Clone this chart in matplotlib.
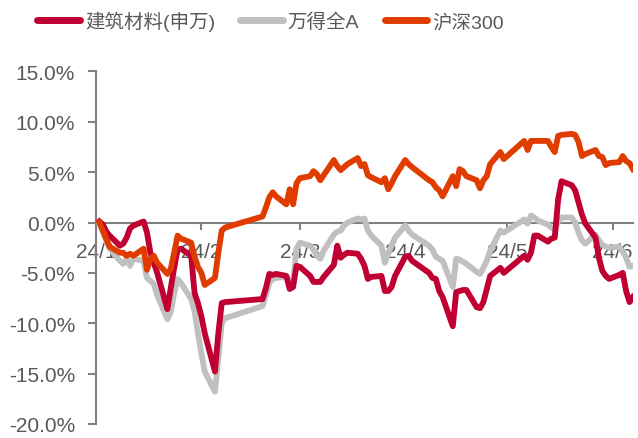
import pandas as pd
import matplotlib.pyplot as plt
import matplotlib.dates as mdates
from matplotlib.ticker import FuncFormatter

plt.rcParams['font.family'] = ['Liberation Sans', 'Noto Sans CJK SC']

# 交易日 (2024)
dates = (
    ["2024-01-%02d" % d for d in [2, 3, 4, 5, 8, 9, 10, 11, 12, 15, 16, 17, 18, 19,
                                   22, 23, 24, 25, 26, 29, 30, 31]]
    + ["2024-02-%02d" % d for d in [1, 2, 5, 6, 7, 8, 19, 20, 21, 22, 23, 26, 27, 28, 29]]
    + ["2024-03-%02d" % d for d in [1, 4, 5, 6, 7, 8, 11, 12, 13, 14, 15, 18, 19, 20, 21,
                                   22, 25, 26, 27, 28, 29]]
    + ["2024-04-%02d" % d for d in [1, 2, 3, 8, 9, 10, 11, 12, 15, 16, 17, 18, 19, 22, 23,
                                   24, 25, 26, 29, 30]]
    + ["2024-05-%02d" % d for d in [6, 7, 8, 9, 10, 13, 14, 15, 16, 17, 20, 21, 22, 23, 24,
                                   27, 28, 29, 30, 31]]
    + ["2024-06-%02d" % d for d in [3, 4, 5, 6, 7]]
)

jzcl = [0.1, -0.2, -0.9, -1.3, -2.3, -2.1, -1.5, -0.6, -0.3, 0.1, -1.0, -3.0, -4.0, -5.0,
        -8.6, -6.5, -4.5, -2.7, -2.6, -3.3, -7.0, -8.0,
        -9.3, -11.0, -14.8, -11.0, -8.0, -7.9, -7.6, -6.5, -5.1, -5.2, -5.1, -5.3, -6.6, -6.4, -4.3,
        -4.4, -5.3, -5.9, -5.9, -5.9, -5.4, -4.2, -2.3, -3.5, -3.2, -3.0, -3.1, -3.6, -4.3, -5.6,
        -5.4, -5.3, -6.8, -6.8, -6.4, -5.3,
        -3.4, -3.3, -3.8, -5.0, -5.5, -5.6, -6.8, -7.4, -10.3, -6.9, -6.8, -6.7, -6.7, -8.4, -8.5,
        -7.9, -6.6, -5.3, -4.5, -5.0,
        -3.3, -3.7, -3.0, -1.3, -1.3, -1.9, -1.6, -1.5, 2.3, 4.1, 3.7, 3.2, 2.0, 0.8, -0.1,
        -1.5, -3.5, -4.8, -5.3, -5.6,
        -5.2, -5.0, -6.8, -7.9, -7.4]

wind_a = [-0.1, -0.9, -1.8, -2.6, -3.8, -4.1, -3.6, -4.3, -3.6, -3.8, -5.5, -5.8, -6.1, -7.2,
          -9.6, -8.9, -7.0, -5.6, -6.0, -7.6, -8.8, -11.0,
          -13.0, -14.8, -16.8, -13.5, -10.0, -9.5, -8.3, -7.2, -6.0, -5.6, -5.5, -5.4, -5.8, -6.0, -2.6,
          -2.0, -2.3, -2.7, -3.3, -3.6, -2.8, -1.2, -0.9, -0.8, -0.3, 0.0, 0.4, 0.3, 0.4, -0.8,
          -1.3, -2.3, -4.0, -3.0, -2.3, -1.5,
          -0.3, -0.8, -1.2, -2.3, -2.7, -3.4, -3.6, -3.8, -6.4, -3.6, -3.7, -3.9, -4.1, -4.9, -5.1,
          -4.5, -3.8, -2.8, -0.8, -1.0,
          0.3, -0.1, 0.7, 0.5, 0.2, -0.2, -0.5, -0.7, 0.1, 0.5, 0.5, 0.0, -1.0, -1.8, -2.1,
          -1.2, -1.8, -2.2, -2.4, -2.5,
          -2.4, -2.9, -3.5, -4.4, -4.3]

hs300 = [0.0, -0.8, -1.6, -2.4, -3.0, -3.0, -3.3, -3.1, -3.3, -2.6, -4.7, -3.6, -3.3, -4.0,
         -5.1, -4.6, -3.0, -1.3, -1.6, -2.0, -3.4, -4.4,
         -5.0, -6.2, -5.5, -3.0, -0.8, -0.5, 0.6, 1.5, 2.5, 3.0, 2.6, 1.8, 3.3, 1.8, 3.9,
         4.4, 4.6, 5.1, 4.8, 4.2, 4.7, 6.2, 5.6, 5.2, 5.5, 5.8, 6.4, 5.6, 5.8, 4.7,
         4.5, 4.0, 4.4, 3.3, 3.9, 4.6,
         6.2, 5.8, 5.5, 4.2, 4.0, 3.5, 3.2, 2.6, 4.6, 3.6, 5.3, 5.1, 4.6, 4.2, 3.4,
         4.2, 4.6, 5.8, 7.0, 6.3,
         8.1, 7.2, 8.1, 8.1, 8.1, 8.1, 7.5, 7.0, 8.6, 8.7, 8.8, 8.7, 8.0, 6.6, 6.8,
         7.2, 6.6, 6.5, 5.7, 5.9,
         6.0, 6.6, 6.1, 5.9, 5.3]

names = ["建筑材料(申万)", "万得全A", "沪深300"]
colors = ["#C00032", "#C0C0C0", "#E03C00"]

x = pd.to_datetime(dates)

fig = plt.figure(figsize=(6.38, 4.39), dpi=100)
ax = fig.add_axes([0.1505, 0.032, 0.8415, 0.803])

ax.plot(x, jzcl, color=colors[0], lw=4.2, label=names[0], zorder=4)
ax.plot(x, wind_a, color=colors[1], lw=4.2, label=names[1], zorder=3)
ax.plot(x, hs300, color=colors[2], lw=4.2, label=names[2], zorder=5)

ax.set_ylim(-20, 15)
ax.set_yticks(range(-20, 16, 5))
ax.yaxis.set_major_formatter(FuncFormatter(lambda v, p: "%.1f%%" % v))
ax.set_xlim(pd.Timestamp("2024-01-01"), pd.Timestamp("2024-06-07"))
ax.set_xticks(pd.date_range("2024-01-01", "2024-06-01", freq="MS"))
ax.xaxis.set_major_formatter(mdates.DateFormatter("24/%-m"))

for s in ["top", "right"]:
    ax.spines[s].set_visible(False)
ax.spines["bottom"].set_position(("data", 0))
for s in ["left", "bottom"]:
    ax.spines[s].set_color("#808080")
    ax.spines[s].set_linewidth(1.5)

ax.tick_params(axis="y", colors="#808080", labelcolor="#595959", labelsize=15,
               length=6, width=1.5, pad=9)
ax.tick_params(axis="x", colors="#808080", labelcolor="#595959", labelsize=15,
               length=5, width=1.5, pad=9)

leg = fig.legend(loc="center", bbox_to_anchor=(0.424, 0.95), ncol=3, frameon=False,
                 fontsize=14, handlelength=2.2, handletextpad=0.25, columnspacing=1.3,
                 labelcolor="#595959")
for h in leg.get_lines():
    h.set_linewidth(5)
    h.set_solid_capstyle("round")

fig.savefig("out.png", dpi=100)
